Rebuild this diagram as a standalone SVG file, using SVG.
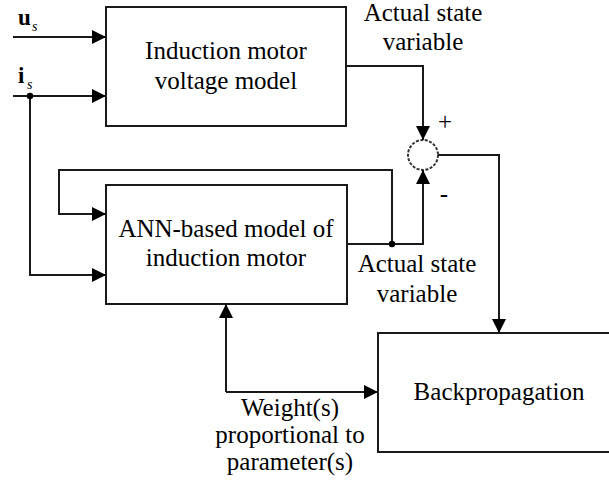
<svg xmlns="http://www.w3.org/2000/svg" width="609" height="484" viewBox="0 0 609 484">
<style>
.box{fill:#fff;stroke:#1a1a1a;stroke-width:2}
.wire{fill:none;stroke:#1a1a1a;stroke-width:2}
.t{font-family:'Liberation Serif','Tinos','Times New Roman','DejaVu Serif',serif;font-size:25px;fill:#000;text-anchor:middle}
.b{font-family:'Liberation Serif','Tinos','Times New Roman','DejaVu Serif',serif;font-size:23px;font-weight:bold}
.s{font-family:'Liberation Serif','Tinos','Times New Roman','DejaVu Serif',serif;font-size:14px;font-style:italic}
.dot{fill:#000}
</style>
<defs>
<marker id="arr" markerUnits="userSpaceOnUse" markerWidth="14" markerHeight="14" refX="12" refY="6" orient="auto" viewBox="0 0 12 12">
<path d="M0,0 L12,6 L0,12 z" fill="#000"/>
</marker>
</defs>
<rect x="0" y="0" width="609" height="484" fill="#fff"/>
<g id="inputs">
<text class="b" x="18" y="25">u</text>
<text class="s" x="32" y="31">s</text>
<text class="b" x="18" y="83">i</text>
<text class="s" x="27" y="89">s</text>
</g>
<g id="voltage-model">
<rect class="box" x="106" y="7" width="240" height="119"/>
<text class="t" x="226" y="59">Induction motor</text>
<text class="t" x="226" y="89">voltage model</text>
</g>
<g id="ann-model">
<rect class="box" x="106" y="185" width="241" height="119"/>
<text class="t" x="226" y="237">ANN-based model of</text>
<text class="t" x="226" y="266">induction motor</text>
</g>
<g id="backprop">
<rect class="box" x="378" y="333" width="250" height="119"/>
<text class="t" x="499" y="400">Backpropagation</text>
</g>
<g id="sum">
<circle cx="423" cy="155" r="15" fill="#fff" stroke="#333" stroke-width="2" stroke-dasharray="3 1.5"/>
<text class="t" x="445" y="130">+</text>
<text class="t" x="444" y="202">-</text>
</g>
<g id="connectors">
<path class="wire" d="M13,37 H106" marker-end="url(#arr)"/>
<path class="wire" d="M13,96 H106" marker-end="url(#arr)"/>
<path class="wire" d="M30,96 V275 H106" marker-end="url(#arr)"/>
<path class="wire" d="M347,66 H423 V140" marker-end="url(#arr)"/>
<path class="wire" d="M347,244 H423 V170" marker-end="url(#arr)"/>
<path class="wire" d="M392,244 V170 H59 V214 H106" marker-end="url(#arr)"/>
<path class="wire" d="M438,155 H499 V333" marker-end="url(#arr)"/>
<path class="wire" d="M226,392 V304" marker-end="url(#arr)"/>
<path class="wire" d="M226,392 H378" marker-end="url(#arr)"/>
<circle class="dot" cx="30" cy="96" r="3.2"/>
<circle class="dot" cx="392" cy="244" r="3.2"/>
</g>
<g id="labels">
<text class="t" x="423" y="21">Actual state</text>
<text class="t" x="423" y="50">variable</text>
<text class="t" x="417" y="272">Actual state</text>
<text class="t" x="417" y="302">variable</text>
<text class="t" x="290" y="416">Weight(s)</text>
<text class="t" x="290" y="443">proportional to</text>
<text class="t" x="290" y="470">parameter(s)</text>
</g>
</svg>
